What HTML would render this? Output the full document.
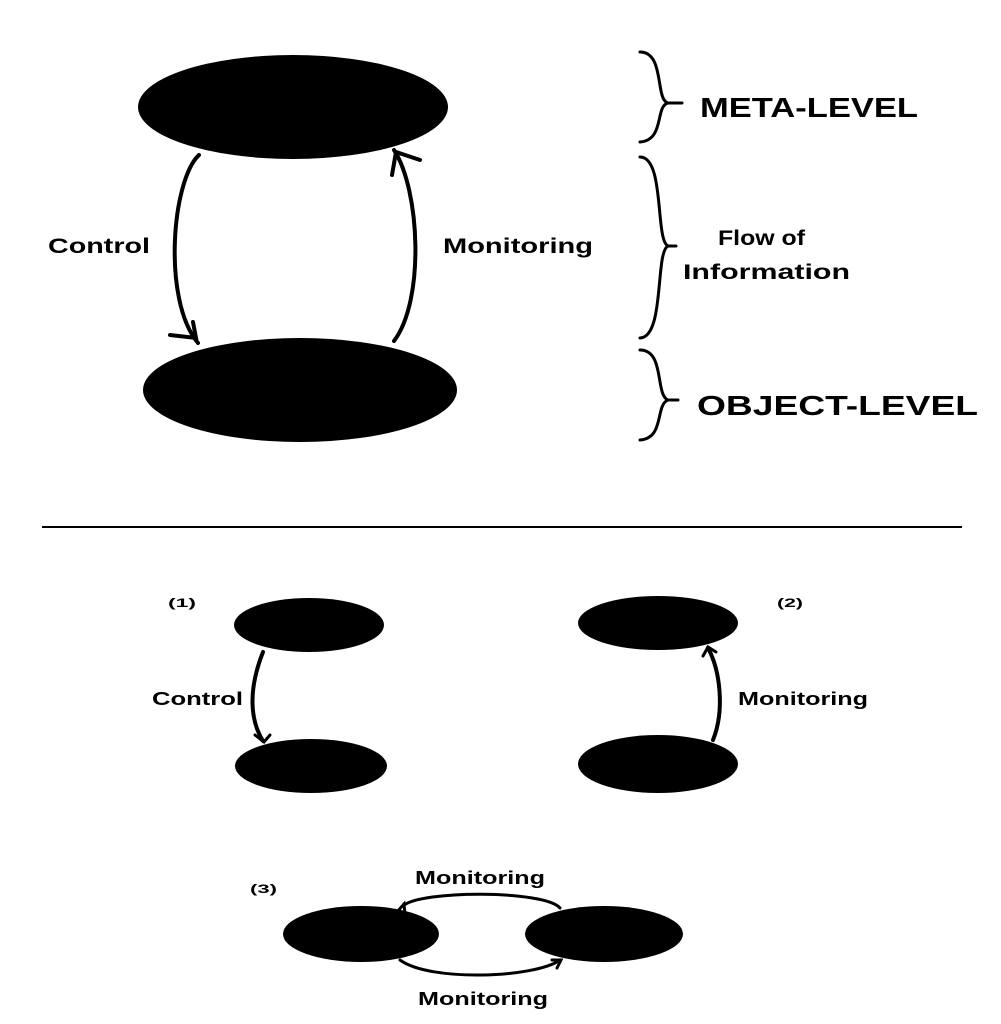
<!DOCTYPE html>
<html><head><meta charset="utf-8"><style>
html,body{margin:0;padding:0;background:#fff;}
svg{display:block;}
text{font-family:"Liberation Sans",sans-serif;font-weight:bold;fill:#000;}
</style></head><body>
<svg width="1001" height="1024" viewBox="0 0 1001 1024" xmlns="http://www.w3.org/2000/svg">
<g fill="#000">
<ellipse cx="293" cy="107" rx="155" ry="52"/>
<ellipse cx="300" cy="390" rx="157" ry="52"/>
<ellipse cx="309" cy="625" rx="75" ry="27"/>
<ellipse cx="311" cy="766" rx="76" ry="27"/>
<ellipse cx="658" cy="623" rx="80" ry="27"/>
<ellipse cx="658" cy="764" rx="80" ry="29"/>
<ellipse cx="361" cy="934" rx="78" ry="28"/>
<ellipse cx="604" cy="934" rx="79" ry="28"/>
</g>
<g fill="none" stroke="#000" stroke-width="4" stroke-linecap="round">
<path d="M199 155 C172 180 162 300 198 343"/>
<path d="M170 335 L196 338 L193 322"/>
<path d="M394 341 C425 300 420 190 394 150"/>
<path d="M392 175 L396 152 L420 160"/>
<path d="M263 652 C248 690 250 720 263 741"/>
<path d="M255 735 L264 742 L270 735" stroke-width="3"/>
<path d="M713 740 C725 710 720 670 708 648"/>
<path d="M703 656 L708 647 L716 652" stroke-width="3"/>
<path d="M403 906 C420 890 545 890 560 908" stroke-width="3"/>
<path d="M397 912 L404 904 L405 914" stroke-width="3"/>
<path d="M400 960 C430 982 535 978 560 960" stroke-width="3"/>
<path d="M552 960 L561 960 L557 968" stroke-width="3"/>
<path d="M640 52 C665 52 655 100 668 103 C655 106 665 140 640 142" stroke-width="3"/>
<path d="M640 157 C665 157 655 240 668 246 C655 252 665 337 640 338" stroke-width="3"/>
<path d="M640 350 C665 350 655 395 668 400 C655 405 665 438 640 440" stroke-width="3"/>
<line x1="668" y1="103" x2="682" y2="103" stroke-width="3"/>
<line x1="668" y1="246" x2="676" y2="246" stroke-width="3"/>
<line x1="668" y1="400" x2="678" y2="400" stroke-width="3"/>
</g>
<line x1="42" y1="527" x2="962" y2="527" stroke="#000" stroke-width="2"/>
<text x="700" y="117" font-size="28" textLength="218" lengthAdjust="spacingAndGlyphs">META-LEVEL</text>
<text x="718" y="245" font-size="21" textLength="87" lengthAdjust="spacingAndGlyphs">Flow of</text>
<text x="683" y="279" font-size="21" textLength="167" lengthAdjust="spacingAndGlyphs">Information</text>
<text x="697" y="415" font-size="28" textLength="281" lengthAdjust="spacingAndGlyphs">OBJECT-LEVEL</text>
<text x="48" y="253" font-size="21" textLength="102" lengthAdjust="spacingAndGlyphs">Control</text>
<text x="443" y="253" font-size="21" textLength="150" lengthAdjust="spacingAndGlyphs">Monitoring</text>
<text x="168" y="607" font-size="12" textLength="28" lengthAdjust="spacingAndGlyphs">(1)</text>
<text x="777" y="607" font-size="12" textLength="26" lengthAdjust="spacingAndGlyphs">(2)</text>
<text x="250" y="893" font-size="12" textLength="27" lengthAdjust="spacingAndGlyphs">(3)</text>
<text x="152" y="705" font-size="18" textLength="91" lengthAdjust="spacingAndGlyphs">Control</text>
<text x="738" y="705" font-size="18" textLength="130" lengthAdjust="spacingAndGlyphs">Monitoring</text>
<text x="415" y="884" font-size="18" textLength="130" lengthAdjust="spacingAndGlyphs">Monitoring</text>
<text x="418" y="1005" font-size="18" textLength="130" lengthAdjust="spacingAndGlyphs">Monitoring</text>
</svg>
</body></html>
